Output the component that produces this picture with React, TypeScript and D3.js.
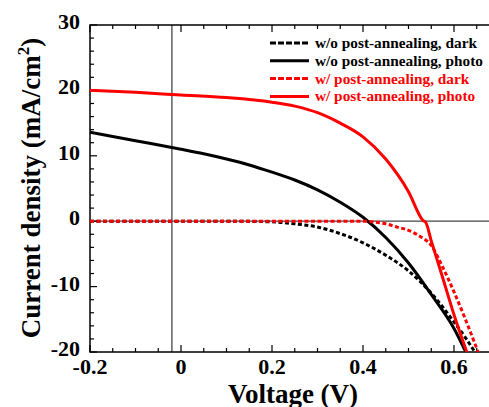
import React from 'react';
import * as d3 from 'd3';

// voltage (V) / current density (mA/cm^2)
const woDarkV = [-0.2, 0, 0.1, 0.2, 0.25, 0.3, 0.35, 0.4, 0.45, 0.5, 0.55, 0.6, 0.625, 0.646];
const woDarkJ = [0, 0, 0, -0.1, -0.4, -0.9, -1.9, -3.3, -5.2, -7.6, -11.0, -15.4, -17.8, -20];

const woPhotoV = [-0.2, -0.1, 0, 0.05, 0.1, 0.15, 0.2, 0.25, 0.3, 0.35, 0.4, 0.45, 0.5, 0.55, 0.6, 0.626];
const woPhotoJ = [13.6, 12.3, 11.0, 10.3, 9.5, 8.6, 7.5, 6.3, 4.8, 2.9, 0.6, -2.5, -6.4, -11.2, -16.4, -20];

const wDarkV = [-0.2, 0, 0.2, 0.35, 0.4, 0.42, 0.45, 0.475, 0.5, 0.525, 0.55, 0.575, 0.6, 0.625, 0.653];
const wDarkJ = [0, 0, 0, 0, 0, -0.1, -0.4, -0.9, -1.4, -2.3, -3.7, -7.0, -10.8, -15.0, -20];

const wPhotoV = [-0.2, -0.1, 0, 0.1, 0.2, 0.25, 0.3, 0.35, 0.4, 0.45, 0.5, 0.532, 0.538, 0.55, 0.575, 0.6, 0.628];
const wPhotoJ = [20.0, 19.7, 19.3, 18.9, 18.2, 17.6, 16.6, 15.0, 12.9, 9.5, 4.5, 0.1, -0.2, -3.0, -8.6, -14.3, -20];

const legendLabels = [
  'w/o post-annealing, dark',
  'w/o post-annealing, photo',
  'w/ post-annealing, dark',
  'w/ post-annealing, photo',
];

const xTickLabels = [-0.2, 0, 0.2, 0.4, 0.6];
const yTickLabels = [-20, -10, 0, 10, 20, 30];

const W = 489;
const H = 407;
const font = '"Liberation Serif", "Times New Roman", serif';

export default function App() {
  const m = { left: 90, top: 25, bottom: 352 };
  const x = d3.scaleLinear().domain([-0.2, 0.7]).range([m.left, m.left + 0.9 * 455]);
  const y = d3.scaleLinear().domain([-20, 30]).range([m.bottom, m.top]);

  const line = d3
    .line<[number, number]>()
    .x(d => x(d[0]))
    .y(d => y(d[1]))
    .curve(d3.curveMonotoneX);

  const zip = (v: number[], j: number[]) => v.map((vv, i) => [vv, j[i]] as [number, number]);

  const series = [
    { pts: zip(woDarkV, woDarkJ), color: '#000', dash: '4,2.5' },
    { pts: zip(woPhotoV, woPhotoJ), color: '#000', dash: null },
    { pts: zip(wDarkV, wDarkJ), color: '#ff0000', dash: '4,2.5' },
    { pts: zip(wPhotoV, wPhotoJ), color: '#ff0000', dash: null },
  ];

  const xMinor = d3.range(-0.2, 0.7001, 0.05).map(v => +v.toFixed(2));
  const yMinor = d3.range(-20, 30.001, 2);

  const right = x(0.7);

  return (
    <svg width={W} height={H} style={{ position: 'absolute', left: 0, top: 0, background: '#fff' }}>
      <defs>
        <clipPath id="plot">
          <rect x={m.left} y={m.top} width={right - m.left} height={m.bottom - m.top} />
        </clipPath>
      </defs>

      {/* reference lines */}
      <line x1={m.left} x2={right} y1={y(0)} y2={y(0)} stroke="#444" strokeWidth={1.3} />
      <line x1={x(-0.02)} x2={x(-0.02)} y1={m.top} y2={m.bottom} stroke="#444" strokeWidth={1.3} />

      {/* frame */}
      <rect x={m.left} y={m.top} width={right - m.left} height={m.bottom - m.top} fill="none" stroke="#000" strokeWidth={1.5} />

      {/* x ticks, bottom and top */}
      {xMinor.map((v, i) => {
        const major = xTickLabels.some(t => Math.abs(t - v) < 1e-6);
        const len = major ? 7 : 4;
        return (
          <g key={'xt' + i}>
            <line x1={x(v)} x2={x(v)} y1={m.bottom} y2={m.bottom - len} stroke="#000" strokeWidth={1.2} />
            <line x1={x(v)} x2={x(v)} y1={m.top} y2={m.top + len} stroke="#000" strokeWidth={1.2} />
          </g>
        );
      })}
      {yMinor.map((v, i) => {
        const major = v % 10 === 0;
        const len = major ? 7 : 4;
        return (
          <line key={'yt' + i} x1={m.left} x2={m.left + len} y1={y(v)} y2={y(v)} stroke="#000" strokeWidth={1.2} />
        );
      })}

      {/* curves */}
      <g clipPath="url(#plot)">
        {series.map((s, i) => (
          <path
            key={i}
            d={line(s.pts) || ''}
            fill="none"
            stroke={s.color}
            strokeWidth={3}
            strokeDasharray={s.dash || undefined}
          />
        ))}
      </g>

      {/* tick labels */}
      {xTickLabels.map(v => (
        <text key={'xl' + v} x={x(v)} y={m.bottom + 22} textAnchor="middle" fontFamily={font} fontWeight="bold" fontSize={22}>
          {v === 0 ? '0' : String(v)}
        </text>
      ))}
      {yTickLabels.map(v => (
        <text key={'yl' + v} x={80} y={y(v) + 4} textAnchor="end" fontFamily={font} fontWeight="bold" fontSize={22}>
          {v}
        </text>
      ))}

      {/* axis titles */}
      <text x={293} y={403} textAnchor="middle" fontFamily={font} fontWeight="bold" fontSize={27}>
        Voltage (V)
      </text>
      <text transform="translate(40,188) rotate(-90)" textAnchor="middle" fontFamily={font} fontWeight="bold" fontSize={27}>
        Current density (mA/cm
        <tspan dy={-11} fontSize={17}>2</tspan>
        <tspan dy={11}>)</tspan>
      </text>

      {/* legend */}
      {legendLabels.map((lab, i) => {
        const ly = 43 + i * 17.8;
        const s = series[i];
        return (
          <g key={'lg' + i}>
            <line x1={270} x2={309} y1={ly} y2={ly} stroke={s.color} strokeWidth={3} strokeDasharray={s.dash ? '6,2' : undefined} />
            <text x={315} y={ly + 5} fontFamily={font} fontWeight="bold" fontSize={15.3} fill={s.color}>
              {lab}
            </text>
          </g>
        );
      })}
    </svg>
  );
}
